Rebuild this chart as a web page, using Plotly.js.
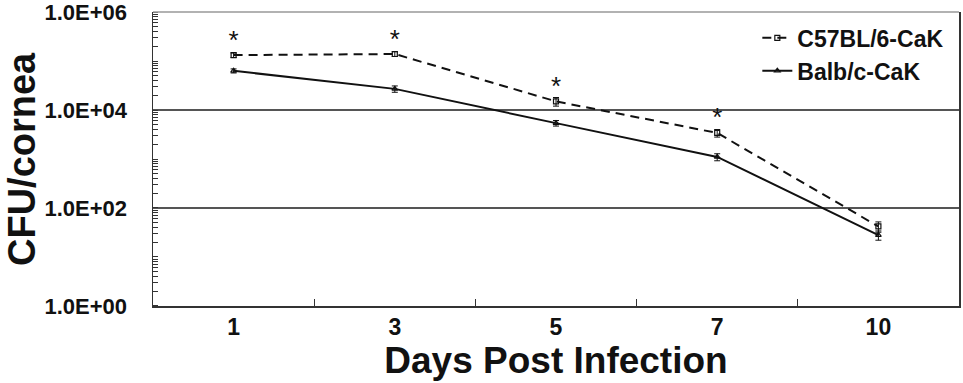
<!DOCTYPE html>
<html><head><meta charset="utf-8">
<script src="https://cdn.plot.ly/plotly-3.0.1.min.js"></script>
<style>body{margin:0;background:#fff}#c{width:963px;height:383px}</style>
</head><body><div id="c"></div>
<script>
const days = ['1','3','5','7','10'];
const c57 = [132000, 139000, 15000, 3400, 42];
const c57Err = [14000, 15000, 3000, 600, 10];
const balb = [63000, 27000, 5400, 1100, 28];
const balbErr = [6000, 4000, 700, 180, 6];
const sigMarks = ['*','*','*','*',''];
const yTickVals = [1, 100, 10000, 1000000];
const yTickText = ['1.0E+00','1.0E+02','1.0E+04','1.0E+06'];
const yTitle = 'CFU/cornea';
const xTitle = 'Days Post Infection';

const font = 'Liberation Sans, Arial, sans-serif';
const traces = [
  {x: days, y: c57, name: 'C57BL/6-CaK', type: 'scatter', mode: 'lines+markers',
   line: {color: '#111', width: 2, dash: '9px,6px'},
   marker: {symbol: 'square-open', size: 5, color: '#111', line: {width: 1.2}},
   error_y: {type: 'data', array: c57Err, color: '#111', thickness: 1, width: 3}},
  {x: days, y: balb, name: 'Balb/c-CaK', type: 'scatter', mode: 'lines+markers',
   line: {color: '#111', width: 2},
   marker: {symbol: 'triangle-up-open', size: 5, color: '#111', line: {width: 1.2}},
   error_y: {type: 'data', array: balbErr, color: '#111', thickness: 1, width: 3}},
  {x: days, y: c57, text: sigMarks, type: 'scatter', mode: 'text', showlegend: false,
   textposition: 'top center', textfont: {family: font, size: 26, color: '#111'}, hoverinfo: 'skip'}
];
const layout = {
  width: 963, height: 383,
  margin: {l: 153, r: 4, t: 12, b: 77},
  paper_bgcolor: '#fff', plot_bgcolor: '#fff',
  showlegend: true,
  legend: {x: 0.988, y: 0.985, xanchor: 'right', yanchor: 'top', bgcolor: 'rgba(0,0,0,0)',
           font: {family: font, size: 23, color: '#111', weight: 'bold'}, tracegroupgap: 0, itemwidth: 30},
  shapes: [{type: 'line', xref: 'paper', yref: 'paper', x0: 0, x1: 1, y0: 1, y1: 1,
            line: {color: '#999', width: 1.5}}],
  annotations: [{text: yTitle, xref: 'paper', yref: 'paper', x: -0.1625, y: 0.5, textangle: -90,
                 showarrow: false, xanchor: 'center', yanchor: 'middle', borderpad: 0,
                 font: {family: font, size: 38, color: '#111', weight: 'bold'}}],
  xaxis: {type: 'category', range: [-0.5, 4.5], tickson: 'boundaries', ticks: 'inside', ticklen: 7,
          tickcolor: '#333', showline: true, linecolor: '#333', linewidth: 1.5, mirror: false,
          showgrid: false, zeroline: false,
          tickfont: {family: font, size: 23, color: '#111', weight: 'bold'},
          title: {text: xTitle, font: {family: font, size: 37, color: '#111', weight: 'bold'}, standoff: 0}},
  yaxis: {type: 'log', range: [-0.0005, 6.0005], tickvals: yTickVals, ticktext: yTickText,
          ticks: '', showline: true, linecolor: '#333', linewidth: 1.5, mirror: true,
          showgrid: true, gridcolor: '#555', gridwidth: 1.3, zeroline: false,
          ticklabelstandoff: 20, ticklabeloverflow: 'allow',
          tickfont: {family: font, size: 22, color: '#111', weight: 'bold'},
          minor: {ticks: 'inside', ticklen: 5, tickcolor: '#333', dtick: 'D1', showgrid: false}}
};
Plotly.newPlot('c', traces, layout, {displayModeBar: false, staticPlot: true});
</script></body></html>
